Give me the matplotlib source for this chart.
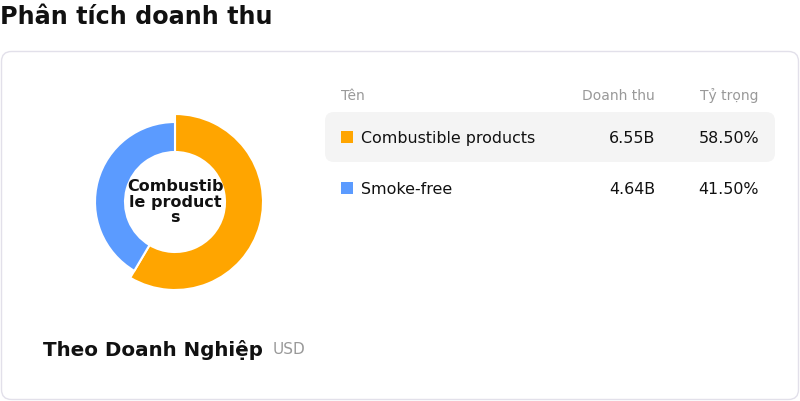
import matplotlib
matplotlib.use("Agg")
import matplotlib.pyplot as plt
from matplotlib.patches import FancyBboxPatch

plt.rcParams['font.family'] = ['DejaVu Sans']

title = "Phân tích doanh thu"
subtitle = "Theo Doanh Nghiệp"
unit = "USD"
headers = ["Tên", "Doanh thu", "Tỷ trọng"]
categories = ["Combustible products", "Smoke-free"]
revenue_labels = ["6.55B", "4.64B"]
shares = [58.50, 41.50]
colors = ["#FFA500", "#5B9BFF"]
center_label = "Combustib\nle product\ns"

W, H = 800, 402
fig = plt.figure(figsize=(W / 100, H / 100), dpi=100)
bg = fig.add_axes([0, 0, 1, 1])
bg.set_xlim(0, W)
bg.set_ylim(H, 0)
bg.axis("off")

# Card
card = FancyBboxPatch((1.5, 52.5), 797, 348, boxstyle="round,pad=0,rounding_size=10",
                      fc="white", ec="#E2E0EA", lw=1)
bg.add_patch(card)

bg.text(0, 16.5, title, fontsize=17.2, fontweight="bold", color="#111111", va="center", ha="left")

# Table
hx = [341, 655, 759]
bg.text(hx[0], 96, headers[0], fontsize=10, color="#999999", va="center", ha="left")
bg.text(hx[1], 96, headers[1], fontsize=10, color="#999999", va="center", ha="right")
bg.text(hx[2], 96, headers[2], fontsize=10, color="#999999", va="center", ha="right")

row_y = [138, 189]
hl = FancyBboxPatch((325, 113), 450, 50, boxstyle="round,pad=0,rounding_size=9",
                    fc="#F4F4F4", ec="none")
bg.add_patch(hl)
for i, cat in enumerate(categories):
    y = row_y[i]
    bg.add_patch(plt.Rectangle((341, y - 6), 12, 12, fc=colors[i], ec="none"))
    bg.text(361, y + 1, cat, fontsize=11.4, color="#111111", va="center", ha="left")
    bg.text(hx[1], y + 1, revenue_labels[i], fontsize=11.4, color="#111111", va="center", ha="right")
    bg.text(hx[2], y + 1, f"{shares[i]:.2f}%", fontsize=11.4, color="#111111", va="center", ha="right")

bg.text(43, 350, subtitle, fontsize=14.3, fontweight="bold", color="#111111", va="center", ha="left")
bg.text(273, 350, unit, fontsize=11, color="#999999", va="center", ha="left")

# Donut
cx, cy = 175, H - 203
S = 100
pax = fig.add_axes([(cx - S) / W, (cy - S) / H, 2 * S / W, 2 * S / H])
pax.set_aspect("equal")
inner = 50
outer_sel, outer = 88, 80
w1, _ = pax.pie(shares, radius=outer_sel, startangle=90, counterclock=False,
                colors=colors,
                wedgeprops=dict(width=outer_sel - inner, edgecolor="white", linewidth=1.5))
w1[1].set_visible(False)
w2, _ = pax.pie(shares, radius=outer, startangle=90, counterclock=False,
                colors=colors,
                wedgeprops=dict(width=outer - inner, edgecolor="white", linewidth=1.5))
w2[0].set_visible(False)
pax.set_xlim(-S, S)
pax.set_ylim(-S, S)
pax.axis("off")
pax.text(0, 1, center_label, fontsize=11.5, fontweight="bold", color="#111111",
         ha="center", va="center", linespacing=1.08)

fig.savefig("out.png", dpi=100)
